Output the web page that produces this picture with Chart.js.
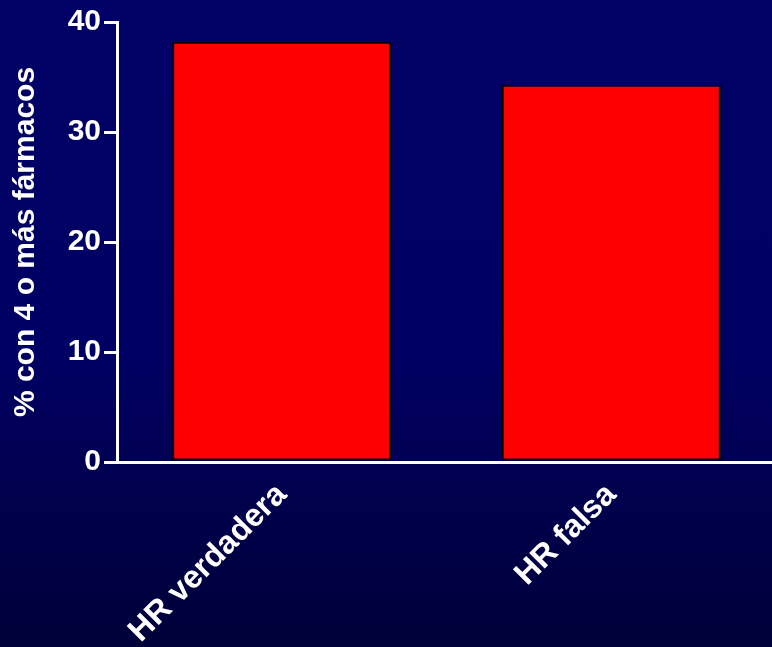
<!DOCTYPE html>
<html>
<head>
<meta charset="utf-8">
<script src="https://cdn.jsdelivr.net/npm/chart.js@4/dist/chart.umd.min.js"></script>
<style>
  html, body { margin: 0; padding: 0; }
  body {
    width: 772px; height: 647px; overflow: hidden;
    background: linear-gradient(to bottom, #000066 0%, #000064 55%, #00004a 80%, #00003a 100%);
  }
  #wrap { position: relative; width: 772px; height: 647px; }
</style>
</head>
<body>
<div id="wrap"><canvas id="c" width="772" height="647"></canvas></div>
<script>
// Share of patients on 4 or more drugs, by HR group
const categories = ['HR verdadera', 'HR falsa'];
const percentValues = [38.2, 34.3];
const axisTitle = '% con 4 o más fármacos';
const yMax = 40;
const yStep = 10;

const fontFamily = "'Liberation Sans', Arial, Helvetica, sans-serif";

// The category axis runs a few pixels past the right edge of the canvas
const widenCategoryAxis = {
  id: 'widenCategoryAxis',
  afterLayout(chart) {
    const x = chart.scales.x;
    x.right = x.right + 4;
    x.width = x.right - x.left;
    x.configure();
  }
};

new Chart(document.getElementById('c'), {
  type: 'bar',
  data: {
    labels: categories,
    datasets: [{
      data: percentValues,
      backgroundColor: '#ff0000',
      borderColor: '#000000',
      borderWidth: 2,
      borderSkipped: false,
      categoryPercentage: 1,
      barPercentage: 0.665
    }]
  },
  plugins: [widenCategoryAxis],
  options: {
    responsive: false,
    animation: false,
    layout: { padding: { top: 22, right: 0, left: 0, bottom: 0 } },
    plugins: { legend: { display: false }, tooltip: { enabled: false } },
    scales: {
      x: {
        grid: { display: false },
        border: { display: true, color: '#ffffff', width: 3 },
        ticks: {
          color: '#ffffff',
          font: { family: fontFamily, size: 32, weight: 'bold' },
          minRotation: 45, maxRotation: 45,
          padding: 6
        },
        afterFit(scale) { scale.height = 185; }
      },
      y: {
        min: 0, max: yMax,
        grid: {
          display: true, drawOnChartArea: false, drawTicks: true,
          tickLength: 13, color: '#ffffff', lineWidth: 3
        },
        border: { display: true, color: '#ffffff', width: 3 },
        ticks: {
          stepSize: yStep,
          color: '#ffffff',
          padding: 3,
          font: { family: fontFamily, size: 30, weight: 'bold' }
        },
        title: {
          display: true,
          text: axisTitle,
          color: '#ffffff',
          padding: { top: 8, bottom: 0 },
          font: { family: fontFamily, size: 30, weight: 'bold' }
        },
        afterFit(scale) { scale.width = 117; }
      }
    }
  }
});
</script>
</body>
</html>
